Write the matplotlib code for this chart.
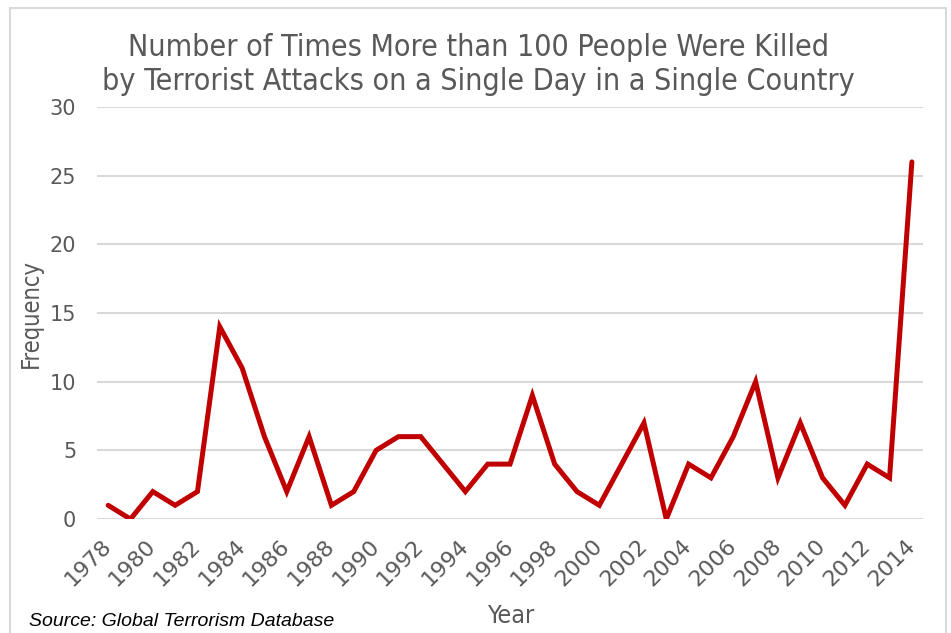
import matplotlib.pyplot as plt
from matplotlib.patches import Rectangle
from matplotlib import font_manager

years = list(range(1978, 2015))
frequency = [1, 0, 2, 1, 2, 14, 11, 6, 2, 6, 1, 2, 5, 6, 6, 4, 2, 4, 4, 9,
             4, 2, 1, 4, 7, 0, 4, 3, 6, 10, 3, 7, 3, 1, 4, 3, 26]
y_ticks = [0, 5, 10, 15, 20, 25, 30]

grey = '#595959'
narrow = font_manager.FontProperties(family='DejaVu Sans', stretch='condensed')


def fp(size):
    p = narrow.copy()
    p.set_size(size)
    return p


fig = plt.figure(figsize=(9.51, 6.33), dpi=100)
ax = fig.add_axes([0.102, 0.180, 0.8686, 0.651])

idx = list(range(len(years)))
ax.plot(idx, frequency, color='#C00000', linewidth=3.6, solid_joinstyle='miter',
        solid_capstyle='round', zorder=3)

ax.set_xlim(-0.5, len(years) - 0.5)
ax.set_ylim(0, 30)
ax.set_yticks(y_ticks)
ax.set_yticklabels([str(v) for v in y_ticks], fontsize=15, color=grey)
ax.set_xticks(idx[::2])
ax.set_xticklabels([str(y) for y in years[::2]], fontsize=16,
                   color=grey, rotation=45, ha='right', va='center',
                   rotation_mode='anchor')
ax.tick_params(axis='both', length=0)
ax.tick_params(axis='y', pad=15)
ax.tick_params(axis='x', pad=17)
ax.grid(axis='y', color='#D9D9D9', linewidth=1.5)
ax.set_axisbelow(True)
for s in ax.spines.values():
    s.set_visible(False)

ax.set_ylabel('Frequency', fontproperties=fp(17), color=grey, labelpad=5)
fig.text(0.537, 0.016, 'Year', fontproperties=fp(18), color=grey, ha='center')

fig.text(0.503, 0.898, 'Number of Times More than 100 People Were Killed\n'
         'by Terrorist Attacks on a Single Day in a Single Country',
         fontproperties=fp(21.8), color=grey, ha='center', va='center',
         linespacing=1.25)

fig.text(0.03, 0.011, 'Source: Global Terrorism Database', family='Liberation Sans',
         style='italic', fontsize=14, color='black')

# light frame around the chart area
fig.patches.append(Rectangle((0.011, -0.05), 0.984, 1.037, transform=fig.transFigure,
                             fill=False, edgecolor='#D9D9D9', linewidth=1.5))

fig.savefig('out.png', dpi=100)
